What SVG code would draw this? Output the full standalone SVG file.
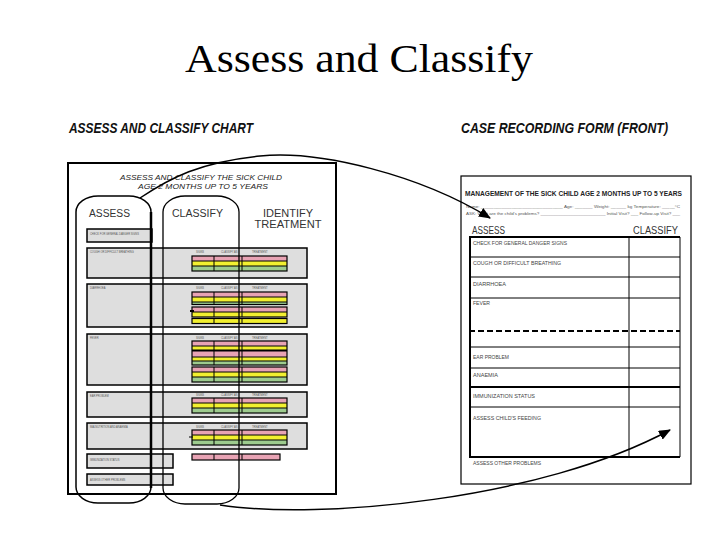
<svg xmlns="http://www.w3.org/2000/svg" width="720" height="540" viewBox="0 0 720 540">
<style>
.title{font-family:"Liberation Serif","Times New Roman",serif;font-size:40px;fill:#000}
.cap{font-family:"Liberation Sans",Arial,sans-serif;font-weight:bold;font-style:italic;font-size:15px;fill:#111}
.hdr{font-family:"Liberation Sans",Arial,sans-serif;font-style:italic;font-size:7.5px;fill:#222}
.col{font-family:"Liberation Sans",Arial,sans-serif;font-size:10px;fill:#333}
.tiny{font-family:"Liberation Sans",Arial,sans-serif;font-size:2.6px;fill:#555}
.lbl{font-family:"Liberation Sans",Arial,sans-serif;font-size:5px;fill:#444}
.ftitle{font-family:"Liberation Sans",Arial,sans-serif;font-weight:bold;font-size:7px;fill:#222}
.box{fill:#dedede;stroke:#000;stroke-width:1.5}
.pk{fill:#e8a3b4}
.yl{fill:#f2f030}
.gr{fill:#9dcb8e}
.bar{fill:none;stroke:#000;stroke-width:1.2}
.thin{fill:none;stroke:#000;stroke-width:1}
.thick{fill:none;stroke:#000;stroke-width:2}
.conn{fill:none;stroke:#000;stroke-width:1.5}
</style>
<defs>
<marker id="arr" markerUnits="userSpaceOnUse" markerWidth="12" markerHeight="10" refX="11" refY="5" orient="auto">
<path d="M0,0 L12,5 L0,10 z" fill="#000"/>
</marker>
</defs>
<rect width="720" height="540" fill="#fff"/>
<text class="title" x="359" y="72" text-anchor="middle" textLength="348" lengthAdjust="spacingAndGlyphs">Assess and Classify</text>

<g id="chart">
<text class="cap" x="69" y="133" textLength="184" lengthAdjust="spacingAndGlyphs">ASSESS AND CLASSIFY CHART</text>
<rect x="68" y="163" width="268" height="331" fill="#fff" stroke="#000" stroke-width="2"/>
<text class="hdr" x="201" y="180" text-anchor="middle" textLength="162" lengthAdjust="spacingAndGlyphs">ASSESS AND CLASSIFY THE SICK CHILD</text>
<text class="hdr" x="203" y="189" text-anchor="middle" textLength="130" lengthAdjust="spacingAndGlyphs">AGE 2 MONTHS UP TO 5 YEARS</text>
<text class="col" x="89" y="217" textLength="41" lengthAdjust="spacingAndGlyphs">ASSESS</text>
<text class="col" x="172" y="217" textLength="51" lengthAdjust="spacingAndGlyphs">CLASSIFY</text>
<text class="col" x="288" y="217" text-anchor="middle" textLength="50" lengthAdjust="spacingAndGlyphs">IDENTIFY</text>
<text class="col" x="288" y="228" text-anchor="middle" textLength="67" lengthAdjust="spacingAndGlyphs">TREATMENT</text>

<g id="row-danger">
<rect class="box" x="87" y="229" width="65" height="13"/>
<text class="tiny" x="90" y="235">CHECK FOR GENERAL DANGER SIGNS</text>
</g>
<g id="row-cough">
<rect class="box" x="87" y="248" width="220" height="30"/>
<text class="tiny" x="90" y="253">COUGH OR DIFFICULT BREATHING</text>
<text class="tiny" x="196" y="253">SIGNS</text><text class="tiny" x="221" y="253">CLASSIFY AS</text><text class="tiny" x="252" y="253">TREATMENT</text>
<rect class="pk" x="192" y="256" width="95" height="5"/><rect class="yl" x="192" y="261" width="95" height="5"/><rect class="gr" x="192" y="266" width="95" height="5"/>
<rect class="bar" x="192" y="256" width="95" height="15"/>
<path class="thin" d="M192,261H287M192,266H287M214,256V271M242,256V271"/>
</g>
<g id="row-diarrhoea">
<rect class="box" x="87" y="284" width="220" height="43"/>
<text class="tiny" x="90" y="289">DIARRHOEA</text>
<text class="tiny" x="196" y="289">SIGNS</text><text class="tiny" x="221" y="289">CLASSIFY AS</text><text class="tiny" x="252" y="289">TREATMENT</text>
<rect class="pk" x="192" y="292" width="95" height="5"/><rect class="yl" x="192" y="297" width="95" height="5"/><rect class="gr" x="192" y="302" width="95" height="2.5"/>
<rect class="bar" x="192" y="292" width="95" height="12.5"/>
<path class="thin" d="M192,297H287M192,302H287M214,292V304.5M242,292V304.5"/>
<rect class="pk" x="192" y="307" width="95" height="5"/><rect class="yl" x="192" y="312" width="95" height="5"/>
<rect class="bar" x="192" y="307" width="95" height="10"/>
<path class="thin" d="M192,312H287M214,307V317M242,307V317"/>
<path class="thick" d="M190,311H194"/>
<rect class="yl" x="192" y="318.5" width="95" height="5"/>
<rect class="bar" x="192" y="318.5" width="95" height="5"/>
<path class="thin" d="M214,318.5V323.5M242,318.5V323.5"/>
</g>
<g id="row-fever">
<rect class="box" x="87" y="334" width="220" height="51"/>
<text class="tiny" x="90" y="339">FEVER</text>
<text class="tiny" x="196" y="339">SIGNS</text><text class="tiny" x="221" y="339">CLASSIFY AS</text><text class="tiny" x="252" y="339">TREATMENT</text>
<rect class="pk" x="192" y="341" width="95" height="5"/><rect class="yl" x="192" y="346" width="95" height="4"/>
<rect class="pk" x="192" y="351" width="95" height="6"/><rect class="yl" x="192" y="357" width="95" height="4"/><rect class="gr" x="192" y="361" width="95" height="4"/>
<rect class="bar" x="192" y="341" width="95" height="24"/>
<path class="thin" d="M192,346H287M192,357H287M192,361H287M214,341V365M242,341V365"/>
<path d="M192,350.5H287" stroke="#000" stroke-width="2"/>
<rect class="pk" x="192" y="367" width="95" height="5"/><rect class="yl" x="192" y="372" width="95" height="5"/><rect class="gr" x="192" y="377" width="95" height="5"/>
<rect class="bar" x="192" y="367" width="95" height="15"/>
<path class="thin" d="M192,372H287M192,377H287M214,367V382M242,367V382"/>
</g>
<g id="row-ear">
<rect class="box" x="87" y="392" width="220" height="25"/>
<text class="tiny" x="90" y="397">EAR PROBLEM</text>
<text class="tiny" x="196" y="396">SIGNS</text><text class="tiny" x="221" y="396">CLASSIFY AS</text><text class="tiny" x="252" y="396">TREATMENT</text>
<rect class="pk" x="192" y="398" width="95" height="5"/><rect class="yl" x="192" y="403" width="95" height="5"/><rect class="gr" x="192" y="408" width="95" height="5"/>
<rect class="bar" x="192" y="398" width="95" height="15"/>
<path class="thin" d="M192,403H287M192,408H287M214,398V413M242,398V413"/>
</g>
<g id="row-malnutrition">
<rect class="box" x="87" y="423" width="220" height="26"/>
<text class="tiny" x="90" y="428">MALNUTRITION AND ANAEMIA</text>
<text class="tiny" x="196" y="428">SIGNS</text><text class="tiny" x="221" y="428">CLASSIFY AS</text><text class="tiny" x="252" y="428">TREATMENT</text>
<rect class="pk" x="192" y="430" width="95" height="5"/><rect class="yl" x="192" y="435" width="95" height="5"/><rect class="gr" x="192" y="440" width="95" height="5"/>
<rect class="bar" x="192" y="430" width="95" height="15"/>
<path class="thin" d="M192,435H287M192,440H287M214,430V445M242,430V445M189,437H193"/>
</g>
<g id="row-immunization">
<rect class="box" x="87" y="454" width="86" height="14"/>
<text class="tiny" x="90" y="461">IMMUNIZATION STATUS</text>
<rect class="pk" x="192" y="454" width="88" height="6"/>
<rect class="bar" x="192" y="454" width="88" height="6"/>
<path class="thin" d="M214,454V460M242,454V460"/>
</g>
<g id="row-other">
<rect class="box" x="87" y="474" width="86" height="11"/>
<text class="tiny" x="90" y="481">ASSESS OTHER PROBLEMS</text>
</g>

<g id="col-assess">
<rect x="76" y="196" width="75" height="307" rx="22" ry="16" fill="none" stroke="#000" stroke-width="1.5"/>
<path d="M151,212V488" stroke="#000" stroke-width="2.5" fill="none"/>
</g>
<g id="col-classify">
<rect x="163" y="196" width="76" height="308" rx="22" ry="16" fill="none" stroke="#000" stroke-width="1.3"/>
</g>
</g>

<g id="form">
<text class="cap" x="461" y="133" textLength="207" lengthAdjust="spacingAndGlyphs">CASE RECORDING FORM (FRONT)</text>
<rect x="461" y="176" width="230" height="308" fill="#fff" stroke="#000" stroke-width="1.2"/>
<text class="ftitle" x="465" y="196" textLength="217" lengthAdjust="spacingAndGlyphs">MANAGEMENT OF THE SICK CHILD AGE 2 MONTHS UP TO 5 YEARS</text>
<text class="tiny" x="466" y="208" textLength="214" lengthAdjust="spacingAndGlyphs">Name: ________________________________ Age: _______ Weight: ______ kg Temperature: _____°C</text>
<text class="tiny" x="466" y="215" textLength="214" lengthAdjust="spacingAndGlyphs">ASK: What are the child's problems? __________________________ Initial Visit? ___ Follow-up Visit? ___</text>
<text class="col" x="472" y="234" textLength="33" lengthAdjust="spacingAndGlyphs" fill="#444">ASSESS</text>
<text class="col" x="678" y="234" text-anchor="end" textLength="45" lengthAdjust="spacingAndGlyphs" fill="#444">CLASSIFY</text>
<g id="form-table">
<path d="M469,237H680V457" class="thin"/>
<path d="M470,237V457H680" stroke="#000" stroke-width="2" fill="none"/>
<path d="M469,237H680" stroke="#000" stroke-width="2"/>
<path class="thin" d="M629,237V457M469,257H680M469,277H680M469,298H680M469,347H680M469,368H680M469,407H680"/>
<path d="M469,387H680" stroke="#000" stroke-width="1.8"/>
<path d="M469,331H680" stroke="#000" stroke-width="2" stroke-dasharray="6,3"/>
</g>
<text class="lbl" x="473" y="245" textLength="94" lengthAdjust="spacingAndGlyphs">CHECK FOR GENERAL DANGER SIGNS</text>
<text class="lbl" x="473" y="265" textLength="88" lengthAdjust="spacingAndGlyphs">COUGH OR DIFFICULT BREATHING</text>
<text class="lbl" x="473" y="286" textLength="33" lengthAdjust="spacingAndGlyphs">DIARRHOEA</text>
<text class="lbl" x="473" y="305" textLength="17" lengthAdjust="spacingAndGlyphs">FEVER</text>
<text class="lbl" x="473" y="359" textLength="36" lengthAdjust="spacingAndGlyphs">EAR PROBLEM</text>
<text class="lbl" x="473" y="377" textLength="25" lengthAdjust="spacingAndGlyphs">ANAEMIA</text>
<text class="lbl" x="473" y="398" textLength="62" lengthAdjust="spacingAndGlyphs">IMMUNIZATION STATUS</text>
<text class="lbl" x="473" y="420" textLength="68" lengthAdjust="spacingAndGlyphs">ASSESS CHILD'S FEEDING</text>
<text class="lbl" x="473" y="465" textLength="68" lengthAdjust="spacingAndGlyphs">ASSESS OTHER PROBLEMS</text>
</g>

<g id="connectors">
<path class="conn" d="M140,198 C170,178 200,162 260,156 S420,175 490,218" marker-end="url(#arr)"/>
<path class="conn" d="M220,505 C320,520 540,500 670,430" marker-end="url(#arr)"/>
</g>
</svg>
